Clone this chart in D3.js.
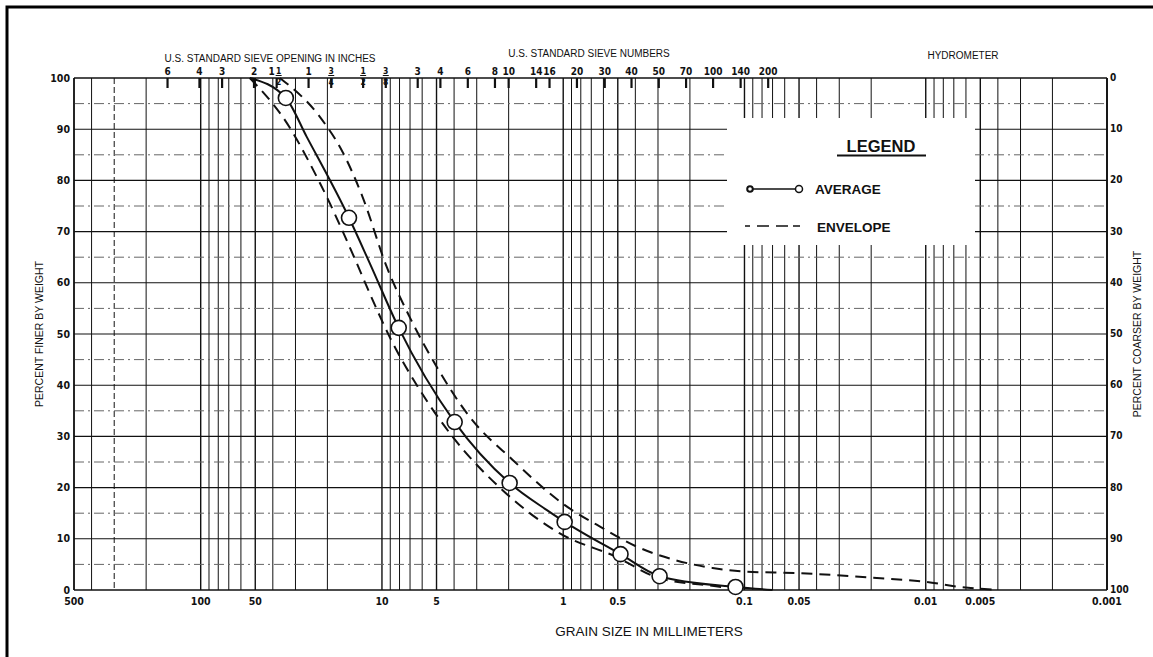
<!DOCTYPE html>
<html>
<head>
<meta charset="utf-8">
<script src="https://cdn.jsdelivr.net/npm/d3@7"></script>
<style>
  html, body { margin: 0; padding: 0; background: #fff; }
  svg { display: block; }
  .num { font-family: "Liberation Sans Narrow", "DejaVu Sans Condensed", "Liberation Sans", sans-serif; font-weight: bold; fill: #111; }
  .ttl { font-family: "Liberation Sans", Arial, sans-serif; fill: #111; }
</style>
</head>
<body>
<svg id="chart" width="1153" height="657"></svg>
<script>
// ---------- data ----------
const xTickLabels = [500, 100, 50, 10, 5, 1, 0.5, 0.1, 0.05, 0.01, 0.005, 0.001];
const yTicks = [0, 10, 20, 30, 40, 50, 60, 70, 80, 90, 100];
const yMinorTicks = [5, 15, 25, 35, 45, 55, 65, 75, 85, 95];

const sieveInchLabels = ["6", "4", "3", "2", "1 1/2", "1", "3/4", "1/2", "3/8"];
const sieveInchSizes  = [152.4, 101.6, 76.2, 50.8, 38.1, 25.4, 19.05, 12.7, 9.525];
const sieveNumLabels  = ["3", "4", "6", "8", "10", "14", "16", "20", "30", "40", "50", "70", "100", "140", "200"];
const sieveNumSizes   = [6.35, 4.76, 3.36, 2.38, 2.0, 1.41, 1.19, 0.84, 0.59, 0.42, 0.297, 0.21, 0.149, 0.105, 0.074];

// average gradation curve (grain size mm, percent finer)
const avgSizes = [53.6, 33.9, 26.0, 15.2, 11.7, 8.08, 3.97, 1.975, 1.23, 0.982, 0.483, 0.294, 0.112, 0.07];
const avgPct   = [100, 96.1, 88.5, 72.7, 63.9, 51.2, 32.8, 20.9, 15.6, 13.3, 7.0, 2.7, 0.6, 0];
// sample points (circles)
const markerSizes = [33.9, 15.2, 8.08, 3.97, 1.975, 0.982, 0.483, 0.294, 0.112];
const markerPct   = [96.1, 72.7, 51.2, 32.8, 20.9, 13.3, 7.0, 2.7, 0.6];
// envelope - coarse/upper side (right)
const upperSizes = [36.6, 22.0, 16.4, 12.8, 9.41, 7.03, 4.99, 3.28, 1.90, 1.0, 0.6, 0.4, 0.25, 0.15, 0.1, 0.05, 0.02, 0.01, 0.0065, 0.004];
const upperPct   = [100, 92.4, 85.4, 76.8, 63.1, 53.3, 43.6, 33.8, 25.4, 16.8, 12.0, 8.6, 6.0, 4.3, 3.6, 3.3, 2.4, 1.6, 0.6, 0];
// envelope - lower side (left)
const lowerSizes = [53.6, 41.6, 36.6, 22.0, 13.8, 11.7, 9.06, 6.19, 4.07, 2.16, 1.05, 0.52, 0.294, 0.126, 0.111];
const lowerPct   = [100, 95.7, 93.2, 79.5, 63.9, 58.0, 49.4, 39.1, 29.9, 19.5, 11.1, 6.6, 2.3, 0.4, 0];

// ---------- drawing ----------
const svg = d3.select("#chart");
const X0 = 74, X1 = 1107, Y0 = 590, Y1 = 78;
const x = d3.scaleLog().domain([500, 0.001]).range([X0, X1]);
const y = d3.scaleLinear().domain([0, 100]).range([Y0, Y1]);

// frame (left & top visible)
svg.append("path").attr("d", `M7,657 L7,7 L1153,7`).attr("fill", "none").attr("stroke", "#000").attr("stroke-width", 3);

const grid = svg.append("g");
// vertical log grid lines
const vTicks = x.ticks().filter(v => v <= 500 && v >= 0.001);
grid.selectAll("line.v").data(vTicks).join("line")
  .attr("x1", d => x(d)).attr("x2", d => x(d))
  .attr("y1", Y1).attr("y2", Y0)
  .attr("stroke", "#111").attr("stroke-width", d => {
    const m = d / Math.pow(10, Math.floor(Math.log10(d) + 1e-9));
    return (Math.abs(m - 1) < 1e-6 || Math.abs(m - 5) < 1e-6) ? 1.4 : 1;
  })
  .attr("stroke-dasharray", d => Math.abs(d - 300) < 1e-6 ? "6,3" : null);

// horizontal grid lines
grid.selectAll("line.h").data(yTicks.filter(v => v > 0 && v < 100)).join("line")
  .attr("x1", X0).attr("x2", X1).attr("y1", d => y(d)).attr("y2", d => y(d))
  .attr("stroke", "#111").attr("stroke-width", 1.1);
grid.selectAll("line.hm").data(yMinorTicks).join("line")
  .attr("x1", X0).attr("x2", X1).attr("y1", d => y(d)).attr("y2", d => y(d))
  .attr("stroke", "#666").attr("stroke-width", 1).attr("stroke-dasharray", "10,4,2,4");

// legend background hides grid
svg.append("rect").attr("x", 727).attr("y", 118).attr("width", 248).attr("height", 127).attr("fill", "#fff");

// axes frame
svg.append("line").attr("x1", X0).attr("x2", X1).attr("y1", Y1).attr("y2", Y1).attr("stroke", "#111").attr("stroke-width", 1.6);
svg.append("line").attr("x1", X0).attr("x2", X1).attr("y1", Y0).attr("y2", Y0).attr("stroke", "#111").attr("stroke-width", 1.6);
svg.append("line").attr("x1", X0).attr("x2", X0).attr("y1", Y1).attr("y2", Y0).attr("stroke", "#111").attr("stroke-width", 1.4);
svg.append("line").attr("x1", X1).attr("x2", X1).attr("y1", Y1).attr("y2", Y0).attr("stroke", "#111").attr("stroke-width", 1.8);

// left y labels
svg.selectAll("text.yl").data(yTicks).join("text").attr("class", "num")
  .attr("x", X0 - 4).attr("y", d => y(d)).attr("dy", "0.35em").attr("text-anchor", "end")
  .attr("font-size", 10.5).text(d => d);
// right y labels (percent coarser)
svg.selectAll("text.yr").data(yTicks).join("text").attr("class", "num")
  .attr("x", X1 + 3).attr("y", d => y(d)).attr("dy", "0.3em").attr("text-anchor", "start")
  .attr("font-size", 10).text(d => 100 - d);
// bottom x labels
svg.selectAll("text.xl").data(xTickLabels).join("text").attr("class", "num")
  .attr("x", d => x(d)).attr("y", Y0 + 15).attr("text-anchor", "middle")
  .attr("font-size", 10.5).text(d => String(d));

// top sieve ticks
const sieves = sieveInchSizes.map((s, i) => ({ s, l: sieveInchLabels[i] }))
  .concat(sieveNumSizes.map((s, i) => ({ s, l: sieveNumLabels[i] })));
svg.selectAll("line.st").data(sieves).join("line")
  .attr("x1", d => x(d.s)).attr("x2", d => x(d.s)).attr("y1", Y1).attr("y2", Y1 + 10)
  .attr("stroke", "#111").attr("stroke-width", 2.2);

sieves.forEach(d => {
  const cx = x(d.s);
  const parts = d.l.split(" ");
  let whole = null, frac = null;
  parts.forEach(p => { if (p.includes("/")) frac = p; else whole = p; });
  if (!frac) {
    svg.append("text").attr("class", "num").attr("x", cx).attr("y", Y1 - 3)
      .attr("text-anchor", "middle").attr("font-size", 10).text(whole);
  } else {
    const [n, dd] = frac.split("/");
    let fx = cx;
    if (whole) {
      svg.append("text").attr("class", "num").attr("x", cx - 5).attr("y", Y1 - 3)
        .attr("text-anchor", "middle").attr("font-size", 10).text(whole);
      fx = cx + 2;
    }
    svg.append("text").attr("class", "num").attr("x", fx).attr("y", Y1 - 4)
      .attr("text-anchor", "middle").attr("font-size", 8.5).text(n);
    svg.append("line").attr("x1", fx - 3).attr("x2", fx + 3).attr("y1", Y1 - 2.5).attr("y2", Y1 - 2.5)
      .attr("stroke", "#111").attr("stroke-width", 1);
    svg.append("text").attr("class", "num").attr("x", fx).attr("y", Y1 + 7)
      .attr("text-anchor", "middle").attr("font-size", 8.5).text(dd);
  }
});

// titles
svg.append("text").attr("class", "ttl").attr("x", 270).attr("y", 62).attr("text-anchor", "middle")
  .attr("font-size", 10).text("U.S. STANDARD SIEVE OPENING IN INCHES");
svg.append("text").attr("class", "ttl").attr("x", 589).attr("y", 57).attr("text-anchor", "middle")
  .attr("font-size", 10).text("U.S. STANDARD SIEVE NUMBERS");
svg.append("text").attr("class", "ttl").attr("x", 963).attr("y", 59).attr("text-anchor", "middle")
  .attr("font-size", 10).text("HYDROMETER");
svg.append("text").attr("class", "ttl").attr("x", 649).attr("y", 636).attr("text-anchor", "middle")
  .attr("font-size", 13.5).text("GRAIN SIZE IN MILLIMETERS");
svg.append("text").attr("class", "ttl").attr("transform", `translate(43,${(Y0 + Y1) / 2}) rotate(-90)`)
  .attr("text-anchor", "middle").attr("font-size", 10.5).text("PERCENT FINER BY WEIGHT");
svg.append("text").attr("class", "ttl").attr("transform", `translate(1141,${(Y0 + Y1) / 2}) rotate(-90)`)
  .attr("text-anchor", "middle").attr("font-size", 10.5).text("PERCENT COARSER BY WEIGHT");

// curves
const line = d3.line().x(d => x(d[0])).y(d => y(d[1])).curve(d3.curveMonotoneX);
const zip = (a, b) => a.map((v, i) => [v, b[i]]);

svg.append("path").datum(zip(upperSizes, upperPct)).attr("d", line)
  .attr("fill", "none").attr("stroke", "#111").attr("stroke-width", 2).attr("stroke-dasharray", "11,7");
svg.append("path").datum(zip(lowerSizes, lowerPct)).attr("d", line)
  .attr("fill", "none").attr("stroke", "#111").attr("stroke-width", 2).attr("stroke-dasharray", "11,7");
svg.append("path").datum(zip(avgSizes, avgPct)).attr("d", line)
  .attr("fill", "none").attr("stroke", "#111").attr("stroke-width", 2);
svg.selectAll("circle.m").data(zip(markerSizes, markerPct)).join("circle")
  .attr("cx", d => x(d[0])).attr("cy", d => y(d[1])).attr("r", 7.5)
  .attr("fill", "#fff").attr("stroke", "#111").attr("stroke-width", 1.6);

// legend
const lg = svg.append("g");
lg.append("text").attr("class", "ttl").attr("x", 881).attr("y", 152).attr("text-anchor", "middle")
  .attr("font-size", 16.5).attr("font-weight", "bold").text("LEGEND");
lg.append("line").attr("x1", 837).attr("x2", 926).attr("y1", 155.5).attr("y2", 155.5).attr("stroke", "#111").attr("stroke-width", 2);
lg.append("line").attr("x1", 751).attr("x2", 799).attr("y1", 189).attr("y2", 189).attr("stroke", "#111").attr("stroke-width", 1.6);
lg.append("circle").attr("cx", 750).attr("cy", 189).attr("r", 2.8).attr("fill", "#fff").attr("stroke", "#111").attr("stroke-width", 2);
lg.append("circle").attr("cx", 799).attr("cy", 189).attr("r", 3.5).attr("fill", "#fff").attr("stroke", "#111").attr("stroke-width", 1.5);
lg.append("text").attr("class", "ttl").attr("x", 815).attr("y", 194).attr("font-size", 13.5).attr("font-weight", "bold").text("AVERAGE");
lg.append("line").attr("x1", 745).attr("x2", 802).attr("y1", 226).attr("y2", 226).attr("stroke", "#111").attr("stroke-width", 1.6).attr("stroke-dasharray", "5,7,12,7,12");
lg.append("text").attr("class", "ttl").attr("x", 817).attr("y", 232).attr("font-size", 13.5).attr("font-weight", "bold").text("ENVELOPE");
</script>
</body>
</html>
